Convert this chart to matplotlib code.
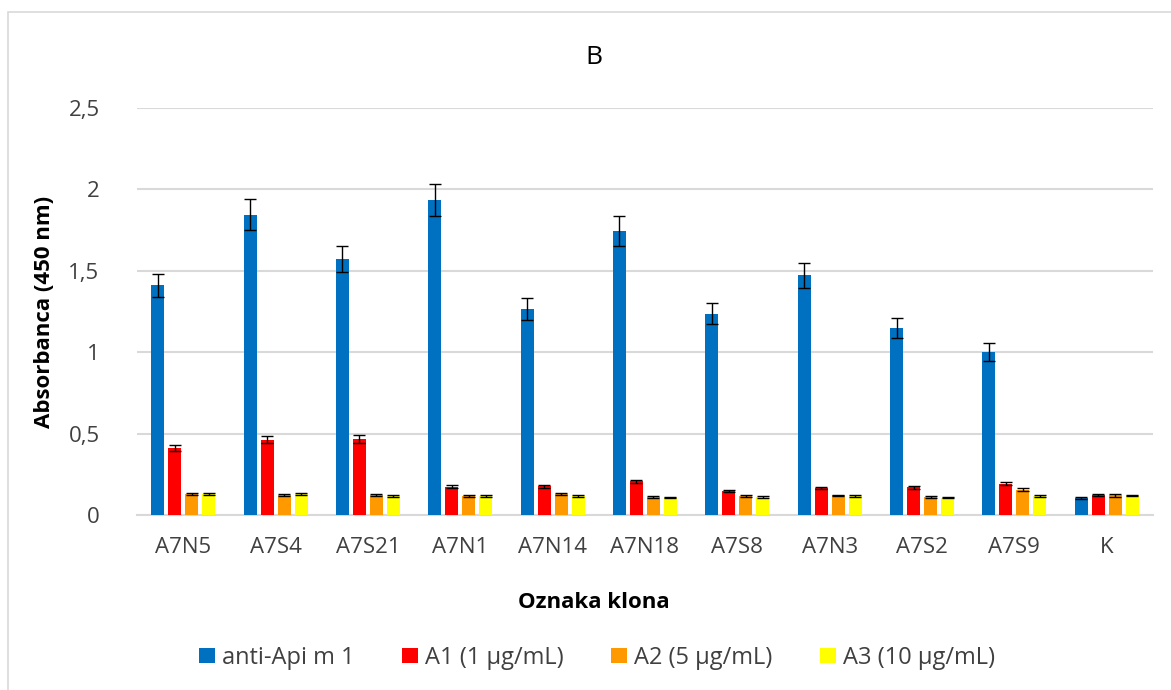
import matplotlib.pyplot as plt
import numpy as np
from matplotlib.patches import Rectangle

plt.rcParams['font.family'] = ['Open Sans', 'DejaVu Sans']

klony = ['A7N5', 'A7S4', 'A7S21', 'A7N1', 'A7N14', 'A7N18', 'A7S8', 'A7N3', 'A7S2', 'A7S9', 'K']
serie = ['anti-Api m 1', 'A1 (1 µg/mL)', 'A2 (5 µg/mL)', 'A3 (10 µg/mL)']
kolory = ['#0070C0', '#FF0000', '#FF9900', '#FFFF00']

anti_api = [1.41, 1.845, 1.573, 1.935, 1.265, 1.745, 1.237, 1.472, 1.148, 1.002, 0.103]
a1 = [0.413, 0.463, 0.467, 0.175, 0.176, 0.207, 0.148, 0.167, 0.170, 0.193, 0.125]
a2 = [0.130, 0.122, 0.125, 0.117, 0.130, 0.112, 0.115, 0.120, 0.110, 0.155, 0.120]
a3 = [0.130, 0.130, 0.116, 0.117, 0.115, 0.108, 0.112, 0.117, 0.107, 0.115, 0.120]

err_anti = [0.072, 0.094, 0.080, 0.096, 0.068, 0.090, 0.066, 0.077, 0.060, 0.053, 0.005]
err_a1 = [0.020, 0.020, 0.025, 0.010, 0.008, 0.010, 0.007, 0.008, 0.008, 0.010, 0.007]
err_a2 = [0.006, 0.008, 0.006, 0.006, 0.006, 0.006, 0.006, 0.006, 0.005, 0.009, 0.007]
err_a3 = [0.006, 0.007, 0.005, 0.006, 0.006, 0.005, 0.005, 0.006, 0.005, 0.006, 0.006]

wartosci = [anti_api, a1, a2, a3]
bledy = [err_anti, err_a1, err_a2, err_a3]

fig = plt.figure(figsize=(11.71, 6.9), dpi=100)
ax = fig.add_axes([0.117, 0.2536, 0.8676, 0.5899])

x = np.arange(len(klony))
krok = 0.184
szer = 0.14
for i in range(4):
    ax.bar(x + (i - 1.5) * krok, wartosci[i], szer, color=kolory[i], label=serie[i],
           yerr=bledy[i], capsize=4.3, zorder=3,
           error_kw=dict(ecolor='black', elinewidth=1, capthick=1))

ax.set_xlim(-0.5, len(klony) - 0.5)
ax.set_ylim(0, 2.5)
ax.set_yticks([0, 0.5, 1, 1.5, 2, 2.5])
ax.set_yticklabels(['0', '0,5', '1', '1,5', '2', '2,5'])
ax.set_xticks(x)
ax.set_xticklabels(klony)
ax.tick_params(length=0, labelsize=16, colors='#404040')
ax.tick_params(axis='x', pad=16)
ax.tick_params(axis='y', pad=27)
ax.grid(axis='y', color='#D9D9D9', linewidth=1.5, zorder=0)
for s in ['top', 'right', 'left']:
    ax.spines[s].set_visible(False)
ax.spines['bottom'].set_color('#D9D9D9')
ax.spines['bottom'].set_linewidth(1.5)

fig.text(594 / 1171, 1 - 58 / 690, 'B', fontsize=19, color='black', ha='center', va='center')
fig.text(594 / 1171, 1 - 603 / 690, 'Oznaka klona', fontsize=16, fontweight='bold',
         ha='center', va='center')
fig.text(45 / 1171, 1 - 312 / 690, 'Absorbanca (450 nm)', fontsize=16, fontweight='bold',
         rotation=90, ha='center', va='center')

fig.legend(loc='center', bbox_to_anchor=(0.51, 0.046), ncol=4, frameon=False,
           fontsize=17, handlelength=0.68, handleheight=0.6, handletextpad=0.3,
           columnspacing=2.0, labelcolor='#404040')

fig.patches.append(Rectangle((8 / 1171, -0.05), 1.1, 1.05 - 12 / 690, transform=fig.transFigure,
                             fill=False, edgecolor='#D9D9D9', linewidth=1.2))

plt.savefig('out.png', dpi=100)
